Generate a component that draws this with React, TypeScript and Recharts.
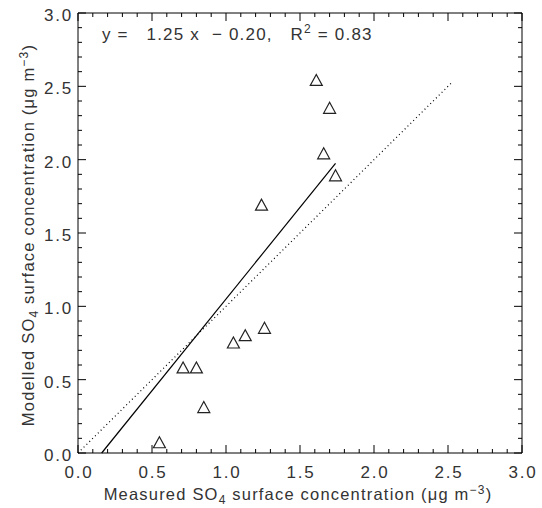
import React from "react";
import { ScatterChart, Scatter, XAxis, YAxis, ReferenceLine, Label } from "recharts";

// measured vs modelled SO4 surface concentration (ug m-3)
const measured = [0.55, 0.71, 0.80, 0.85, 1.05, 1.13, 1.26, 1.24, 1.61, 1.70, 1.66, 1.74];
const modelled = [0.07, 0.58, 0.58, 0.31, 0.75, 0.80, 0.85, 1.69, 2.54, 2.35, 2.04, 1.89];

// end points of the regression line and of the 1:1 line
const fitLine = [{ x: 0.16, y: 0 }, { x: 1.74, y: 1.975 }];
const oneToOne = [{ x: 0, y: 0 }, { x: 2.53, y: 2.53 }];

const tickValues = [
  0, 0.1, 0.2, 0.3, 0.4, 0.5, 0.6, 0.7, 0.8, 0.9, 1.0,
  1.1, 1.2, 1.3, 1.4, 1.5, 1.6, 1.7, 1.8, 1.9, 2.0,
  2.1, 2.2, 2.3, 2.4, 2.5, 2.6, 2.7, 2.8, 2.9, 3.0,
];

const NB = "\u00A0";
const equationText = `y${NB}=${NB}${NB}${NB}1.25${NB}x${NB}${NB}\u2212${NB}0.20,${NB}${NB}${NB}R`;
const r2Text = `${NB}=${NB}0.83`;

const font = "'Liberation Sans', Arial, sans-serif";
const textColor = "#333";

const isMajor = (v: number) => Math.abs(v * 2 - Math.round(v * 2)) < 1e-6;

function BottomTick({ x, y, payload }: any) {
  const major = isMajor(payload.value);
  return (
    <g>
      <line x1={x} y1={y} x2={x} y2={y - (major ? 8 : 4)} stroke="#000" />
      {major && (
        <text
          x={x + 1}
          y={y + 25}
          textAnchor="middle"
          fontFamily={font}
          fontSize={17}
          letterSpacing={1.8}
          fill={textColor}
        >
          {payload.value.toFixed(1)}
        </text>
      )}
    </g>
  );
}

function TopTick({ x, y, payload }: any) {
  const major = isMajor(payload.value);
  return <line x1={x} y1={y} x2={x} y2={y + (major ? 8 : 4)} stroke="#000" />;
}

function LeftTick({ x, y, payload }: any) {
  const major = isMajor(payload.value);
  return (
    <g>
      <line x1={x} y1={y} x2={x + (major ? 8 : 4)} y2={y} stroke="#000" />
      {major && (
        <text
          x={x - 5}
          y={y + 8}
          textAnchor="end"
          fontFamily={font}
          fontSize={17}
          letterSpacing={1.8}
          fill={textColor}
        >
          {payload.value.toFixed(1)}
        </text>
      )}
    </g>
  );
}

function RightTick({ x, y, payload }: any) {
  const major = isMajor(payload.value);
  return <line x1={x} y1={y} x2={x - (major ? 8 : 4)} y2={y} stroke="#000" />;
}

const Triangle = (props: any) => {
  const { cx, cy } = props;
  return (
    <polygon
      points={`${cx},${cy - 6} ${cx - 6},${cy + 5} ${cx + 6},${cy + 5}`}
      fill="none"
      stroke="#222"
      strokeWidth={1.2}
    />
  );
};

const TitleText = ({ first }: { first: string }) => (
  <>
    {first} SO<tspan fontSize={12} dy={4}>4</tspan>
    <tspan dy={-4}> surface concentration (μg m</tspan>
    <tspan fontSize={12} dy={-6}>−3</tspan>
    <tspan dy={6}>)</tspan>
  </>
);

const XTitle = ({ viewBox }: any) => {
  const cx = viewBox.x + viewBox.width / 2;
  return (
    <text
      x={cx - 2}
      y={viewBox.y + 47}
      textAnchor="middle"
      fontFamily={font}
      fontSize={16.5}
      letterSpacing={1.2}
      fill={textColor}
    >
      <TitleText first="Measured" />
    </text>
  );
};

const YTitle = ({ viewBox }: any) => {
  const cx = 34;
  const cy = viewBox.y + viewBox.height / 2 + 2;
  return (
    <text
      x={cx}
      y={cy}
      transform={`rotate(-90, ${cx}, ${cy})`}
      textAnchor="middle"
      fontFamily={font}
      fontSize={16.5}
      letterSpacing={1.2}
      fill={textColor}
    >
      <TitleText first="Modelled" />
    </text>
  );
};

export default function App() {
  const points = measured.map((x, i) => ({ x, y: modelled[i] }));

  return (
    <div style={{ position: "absolute", left: 0, top: 0, background: "#fff" }}>
      <ScatterChart width={542} height={508} margin={{ top: 0, right: 0, bottom: 0, left: 0 }}>
        <XAxis
          xAxisId="b"
          type="number"
          dataKey="x"
          domain={[0, 3]}
          allowDataOverflow
          ticks={tickValues}
          interval={0}
          tickSize={0}
          tickMargin={0}
          tickLine={false}
          tick={<BottomTick />}
          axisLine={{ stroke: "#000" }}
          height={55}
        >
          <Label content={<XTitle />} />
        </XAxis>
        <XAxis
          xAxisId="t"
          orientation="top"
          type="number"
          dataKey="x"
          domain={[0, 3]}
          allowDataOverflow
          ticks={tickValues}
          interval={0}
          tickSize={0}
          tickMargin={0}
          tickLine={false}
          tick={<TopTick />}
          axisLine={{ stroke: "#000" }}
          height={13}
        />
        <YAxis
          yAxisId="l"
          type="number"
          dataKey="y"
          domain={[0, 3]}
          allowDataOverflow
          ticks={tickValues}
          interval={0}
          tickSize={0}
          tickMargin={0}
          tickLine={false}
          tick={<LeftTick />}
          axisLine={{ stroke: "#000" }}
          width={78}
        >
          <Label content={<YTitle />} />
        </YAxis>
        <YAxis
          yAxisId="r"
          orientation="right"
          type="number"
          dataKey="y"
          domain={[0, 3]}
          allowDataOverflow
          ticks={tickValues}
          interval={0}
          tickSize={0}
          tickMargin={0}
          tickLine={false}
          tick={<RightTick />}
          axisLine={{ stroke: "#000" }}
          width={20}
        />
        <ReferenceLine
          xAxisId="b"
          yAxisId="l"
          segment={oneToOne}
          stroke="#000"
          strokeWidth={1.2}
          strokeDasharray="1 3"
        />
        <ReferenceLine xAxisId="b" yAxisId="l" segment={fitLine} stroke="#000" strokeWidth={1.2} />
        <Scatter
          xAxisId="b"
          yAxisId="l"
          data={points}
          shape={<Triangle />}
          isAnimationActive={false}
        />
        <text x={102} y={40} fontFamily={font} fontSize={17} letterSpacing={1.2} fill={textColor}>
          {equationText}
          <tspan fontSize={12} dy={-7}>2</tspan>
          <tspan dy={7}>{r2Text}</tspan>
        </text>
      </ScatterChart>
    </div>
  );
}
